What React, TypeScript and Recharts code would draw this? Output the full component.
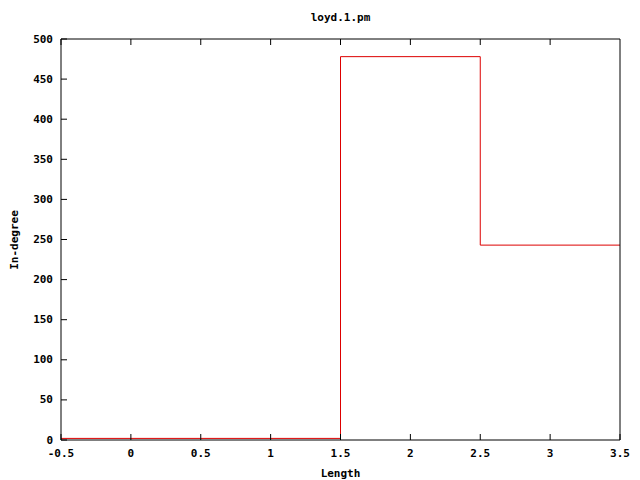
import React from "react";
import { Line, LineChart, XAxis, YAxis } from "recharts";

const lengths = [0, 1, 2, 3];
const inDegree = [2, 2, 478, 243];
const xTicks = [-0.5, 0, 0.5, 1, 1.5, 2, 2.5, 3, 3.5];
const yTicks = [0, 50, 100, 150, 200, 250, 300, 350, 400, 450, 500];

// histeps: each bar spans [x - 0.5, x + 0.5]
const stepData = lengths
  .map((x, i) => ({ x: x - 0.5, y: inDegree[i] }))
  .concat([{ x: lengths[lengths.length - 1] + 0.5, y: inDegree[inDegree.length - 1] }]);

const font = "'DejaVu Sans Mono', monospace";
const textStyle = { fontSize: 11, fontWeight: 700, fontFamily: font, fill: "#000" };
const TICK = 6;

// gnuplot style: tick marks point into the plot
const LeftTick = (p: any) => (
  <g>
    <line x1={p.x + 8} x2={p.x + 8 + TICK} y1={p.y} y2={p.y} stroke="#000" />
    <text x={p.x} y={p.y} textAnchor="end" dominantBaseline="central" style={textStyle}>
      {p.payload.value}
    </text>
  </g>
);
const RightTick = (p: any) => (
  <line x1={p.x} x2={p.x - TICK} y1={p.y} y2={p.y} stroke="#000" />
);
const BottomTick = (p: any) => (
  <g>
    <line x1={p.x} x2={p.x} y1={p.y} y2={p.y - TICK} stroke="#000" />
    <text x={p.x} y={p.y + 13} textAnchor="middle" dominantBaseline="central" style={textStyle}>
      {p.payload.value}
    </text>
  </g>
);
const TopTick = (p: any) => (
  <line x1={p.x} x2={p.x} y1={p.y} y2={p.y + TICK} stroke="#000" />
);

export default function App(): React.JSX.Element {
  return (
    <div style={{ position: "absolute", left: 0, top: 0, width: 640, height: 480, background: "#fff" }}>
      <LineChart width={640} height={480} data={stepData} margin={{ top: 0, right: 0, bottom: 0, left: 0 }}>
        <XAxis
          dataKey="x"
          type="number"
          domain={[-0.5, 3.5]}
          ticks={xTicks}
          height={40}
          stroke="#000"
          tickLine={false}
          tickSize={0}
          tickMargin={0}
          tick={BottomTick}
          label={{
            value: "Length",
            position: "insideBottom",
            offset: 3,
            style: { ...textStyle, textAnchor: "middle" },
          }}
        />
        <XAxis
          xAxisId="top"
          orientation="top"
          type="number"
          domain={[-0.5, 3.5]}
          ticks={xTicks}
          height={39}
          stroke="#000"
          tickLine={false}
          tickSize={0}
          tickMargin={0}
          tick={TopTick}
          label={{
            value: "loyd.1.pm",
            position: "insideTop",
            offset: 13,
            style: { ...textStyle, textAnchor: "middle" },
          }}
        />
        <YAxis
          type="number"
          domain={[0, 500]}
          ticks={yTicks}
          width={61}
          stroke="#000"
          tickLine={false}
          tickSize={0}
          tickMargin={8}
          tick={LeftTick}
          label={() => (
            <text
              x={14}
              y={240}
              transform="rotate(-90 14 240)"
              textAnchor="middle"
              dominantBaseline="central"
              style={textStyle}
            >
              In-degree
            </text>
          )}
        />
        <YAxis
          yAxisId="right"
          orientation="right"
          type="number"
          domain={[0, 500]}
          ticks={yTicks}
          width={20}
          stroke="#000"
          tickLine={false}
          tickSize={0}
          tickMargin={0}
          tick={RightTick}
        />
        <Line
          type="stepAfter"
          dataKey="y"
          stroke="#dd0000"
          strokeWidth={1}
          dot={false}
          isAnimationActive={false}
        />
      </LineChart>
    </div>
  );
}
